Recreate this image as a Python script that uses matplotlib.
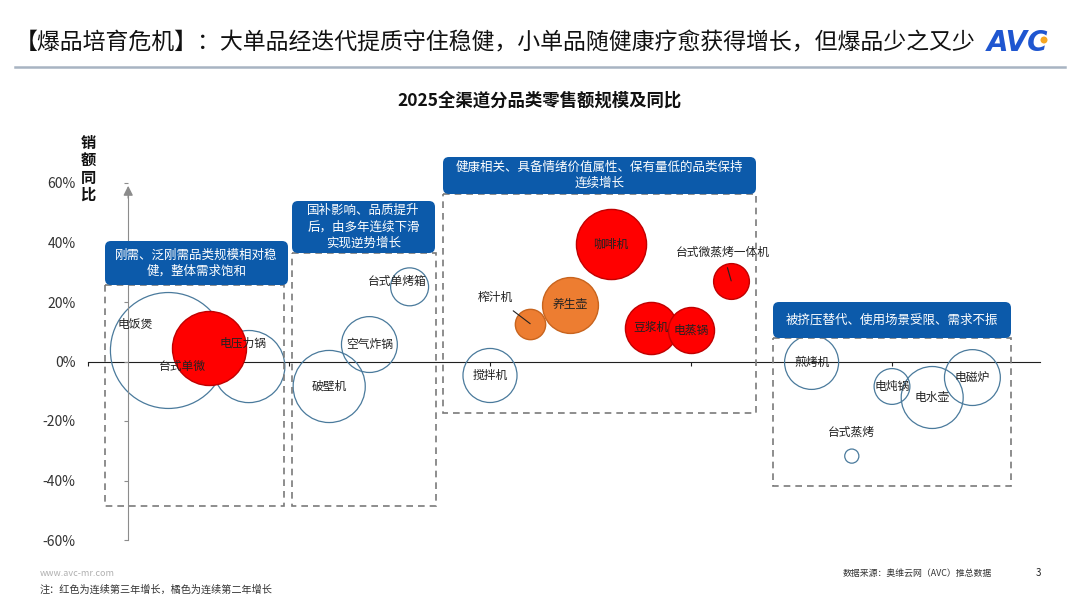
import numpy as np
import matplotlib.pyplot as plt
from matplotlib.patches import FancyBboxPatch, Rectangle, Circle
from matplotlib.transforms import Affine2D

plt.rcParams['font.family'] = ['Noto Sans CJK SC', 'DejaVu Sans']

# 品类数据 : position horizontale (groupes), croissance annuelle (%), taille de bulle (relative), type
names = ['电饭煲', '台式单微', '电压力锅', '破壁机', '空气炸锅', '台式单烤箱',
         '搅拌机', '榨汁机', '养生壶', '咖啡机', '豆浆机', '电蒸锅', '台式微蒸烤一体机',
         '煎烤机', '台式蒸烤', '电炖锅', '电水壶', '电磁炉']
xpos = [0.4, 0.6, 0.8, 1.2, 1.4, 1.6,
        2.0, 2.2, 2.4, 2.6, 2.8, 3.0, 3.2,
        3.6, 3.8, 4.0, 4.2, 4.4]
yoy = [3.7, 4.4, -1.7, -8.4, 5.7, 25.1,
       -4.7, 12.7, 19.1, 39.5, 11.4, 10.7, 27.1,
       -0.3, -31.8, -8.4, -12.1, -5.4]
scale = [336, 137, 130, 130, 78, 36,
         73, 23, 78, 123, 68, 53, 32,
         73, 5, 32, 96, 78]
# r = 3e annee de croissance, o = 2e annee, n = autre
kind = ['n', 'r', 'n', 'n', 'n', 'n',
        'n', 'o', 'o', 'r', 'r', 'r', 'r',
        'n', 'n', 'n', 'n', 'n']

yticks = [-60, -40, -20, 0, 20, 40, 60]
ytick_labels = ['-60%', '-40%', '-20%', '0%', '20%', '40%', '60%']

group_texts = ['刚需、泛刚需品类规模相对稳\n健，整体需求饱和',
               '国补影响、品质提升\n后，由多年连续下滑\n实现逆势增长',
               '健康相关、具备情绪价值属性、保有量低的品类保持\n连续增长',
               '被挤压替代、使用场景受限、需求不振']

title = '【爆品培育危机】：大单品经迭代提质守住稳健，小单品随健康疗愈获得增长，但爆品少之又少'
subtitle = '2025全渠道分品类零售额规模及同比'

# decalages des etiquettes (points)
label_off = {'电饭煲': (-24, 19), '台式单微': (-19, -13), '电压力锅': (-4, 17),
             '台式单烤箱': (-9, 4), '榨汁机': (-25, 19), '台式微蒸烤一体机': (-6, 21),
             '台式蒸烤': (0, 17)}
leader = ['榨汁机', '台式微蒸烤一体机']

W, H = 1080, 608
fig = plt.figure(figsize=(10.8, 6.08), dpi=100)
px = Affine2D().scale(1 / W, -1 / H).translate(0, 1) + fig.transFigure

ax = fig.add_axes([88 / W, (H - 540) / H, 952 / W, 357 / H])
ax.set_xlim(0, 952 / 201)
ax.set_ylim(-60, 60)
ax.patch.set_alpha(0)

for s in ['top', 'right']:
    ax.spines[s].set_visible(False)
ax.spines['left'].set_position(('data', 0.2))
ax.spines['left'].set_bounds(-60, 58)
ax.spines['left'].set_color('#8C8C8C')
ax.spines['bottom'].set_position(('data', 0))
ax.spines['bottom'].set_color('#202020')
ax.spines['bottom'].set_zorder(1)
ax.annotate('', xy=(0.2, 60), xytext=(0.2, 54),
            arrowprops=dict(arrowstyle='-|>', color='#8C8C8C', lw=1, mutation_scale=14))

ax.set_yticks(yticks)
ax.set_yticklabels(ytick_labels)
ax.tick_params(axis='y', length=3, color='#8C8C8C', pad=35, labelsize=10, labelcolor='#333333')
ax.set_xticks([0, 1, 2, 3, 4])
ax.set_xticklabels([])
ax.tick_params(axis='x', length=3, color='#202020')

# bulles
sizes = (2 * np.sqrt(np.array(scale) * 10) * 0.72) ** 2
styles = {'n': dict(facecolor='none', edgecolor='#4A7A9C', lw=0.9, zorder=2),
          'o': dict(facecolor='#ED7D31', edgecolor='#C8641E', lw=1, zorder=3),
          'r': dict(facecolor='#FF0000', edgecolor='#C00000', lw=1, zorder=3)}
for i in range(len(names)):
    ax.scatter(xpos[i], yoy[i], s=sizes[i], clip_on=False, **styles[kind[i]])
    off = label_off.get(names[i], (0, 0))
    if names[i] in leader:
        ax.annotate(names[i], xy=(xpos[i], yoy[i]), xytext=off, textcoords='offset points',
                    ha='center', va='center', fontsize=8.5, color='#222222', zorder=5,
                    arrowprops=dict(arrowstyle='-', lw=0.8, color='#222222', shrinkA=5, shrinkB=0))
    else:
        ax.annotate(names[i], xy=(xpos[i], yoy[i]), xytext=off, textcoords='offset points',
                    ha='center', va='center', fontsize=8.5, color='#222222', zorder=5)

# cadres des groupes (pixels de reference)
boxes = [(105, 241, 288, 285, 284, 506),
         (292, 201, 435, 253, 436, 506),
         (443, 157, 756, 194, 756, 413),
         (773, 302, 1011, 338, 1011, 486)]
for (x0, y0, x1, y1, xr, yb), txt in zip(boxes, group_texts):
    fig.patches.append(Rectangle((x0, y1), xr - x0, yb - y1, transform=px, fill=False,
                                 ls=(0, (4, 3)), lw=1.2, edgecolor='#7A7A7A', zorder=1))
    fig.patches.append(FancyBboxPatch((x0, y0), x1 - x0, y1 - y0, transform=px,
                                      boxstyle='round,pad=0,rounding_size=6',
                                      facecolor='#0C5AAA', edgecolor='none', zorder=2))
    fig.text((x0 + x1) / 2 / W, 1 - (y0 + y1) / 2 / H, txt, ha='center', va='center',
             color='white', fontsize=9, linespacing=1.35, zorder=3)

# titre et en-tete
fig.text(15 / W, 1 - 43 / H, title, fontsize=16.5, va='center', ha='left', color='#111111')
fig.text(1048 / W, 1 - 43 / H, 'AVC', fontsize=20, fontweight='bold', fontstyle='italic',
         va='center', ha='right', color='#1F56D0', family='DejaVu Sans')
fig.patches.append(Circle((1044, 40), 3.5, transform=px, facecolor='#F5A623', edgecolor='none'))
fig.lines.append(plt.Line2D([15, 1065], [67, 67], transform=px, color='#A8B4C2', lw=1.8))
fig.text(540 / W, 1 - 101 / H, subtitle, fontsize=12.5, fontweight='bold', ha='center',
         va='center', color='#111111')

fig.text(88 / W, 1 - 169 / H, '销\n额\n同\n比', fontsize=11, fontweight='bold', ha='center',
         va='center', linespacing=1.1, color='#111111')

# pied de page
fig.text(40 / W, 1 - 573 / H, 'www.avc-mr.com', fontsize=6.5, color='#B0B0B0', va='center')
fig.text(40 / W, 1 - 590 / H, '注：红色为连续第三年增长，橘色为连续第二年增长', fontsize=7.3,
         color='#333333', va='center')
fig.text(992 / W, 1 - 573 / H, '数据来源：奥维云网（AVC）推总数据', fontsize=6.4,
         color='#333333', va='center', ha='right')
fig.text(1038 / W, 1 - 573 / H, '3', fontsize=7, color='#222222', va='center', ha='center')

fig.savefig('out.png', dpi=100, facecolor='white')
